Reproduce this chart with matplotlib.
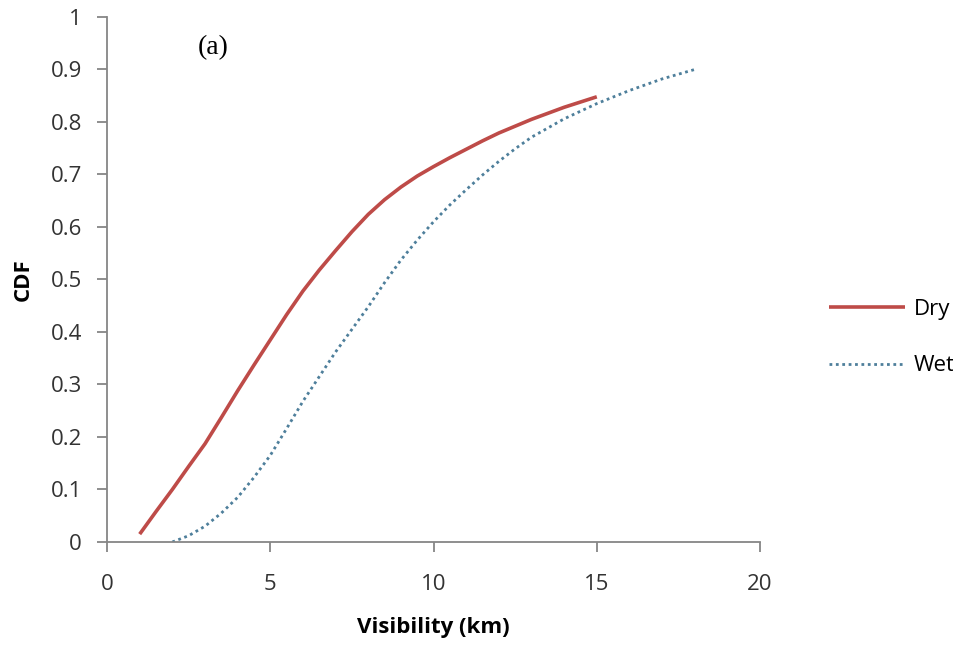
import matplotlib
matplotlib.use("Agg")
import matplotlib.pyplot as plt

# CDF of visibility for dry and wet conditions
dry_x = [1, 1.5, 2, 2.5, 3, 3.5, 4, 4.5, 5, 5.5, 6, 6.5, 7, 7.5, 8, 8.5, 9, 9.5, 10,
         10.5, 11, 11.5, 12, 13, 14, 15]
dry_y = [0.015, 0.058, 0.10, 0.144, 0.187, 0.237, 0.288, 0.337, 0.385, 0.433, 0.478, 0.518,
         0.555, 0.591, 0.624, 0.652, 0.676, 0.697, 0.715, 0.732, 0.748, 0.764, 0.779, 0.805,
         0.828, 0.848]

wet_x = [2, 2.5, 3, 3.5, 4, 4.5, 5, 5.5, 6, 6.5, 7, 7.5, 8, 8.5, 9, 9.5, 10, 10.5, 11,
         11.5, 12, 12.5, 13, 14, 15, 16, 17, 18]
wet_y = [0.0, 0.012, 0.03, 0.055, 0.085, 0.123, 0.165, 0.216, 0.268, 0.315, 0.362, 0.405,
         0.448, 0.494, 0.537, 0.575, 0.61, 0.642, 0.671, 0.699, 0.725, 0.749, 0.771, 0.806,
         0.835, 0.86, 0.882, 0.90]

xticks = [0, 5, 10, 15, 20]
yticks = [0, 0.1, 0.2, 0.3, 0.4, 0.5, 0.6, 0.7, 0.8, 0.9, 1]
ytick_labels = ["0", "0.1", "0.2", "0.3", "0.4", "0.5", "0.6", "0.7", "0.8", "0.9", "1"]

plt.rcParams["font.family"] = ["Open Sans", "DejaVu Sans"]

fig = plt.figure(figsize=(9.54, 6.58), dpi=100)
ax = fig.add_axes([0.1122, 0.1763, 0.6845, 0.7979])

ax.plot(dry_x, dry_y, color="#BE4B48", lw=2.6, label="Dry", solid_capstyle="butt",
        solid_joinstyle="round")
ax.plot(wet_x, wet_y, color="#4E7F9B", lw=2.0, linestyle=(0, (1, 1.3)), label="Wet")

ax.set_xlim(0, 20)
ax.set_ylim(0, 1)
ax.set_xticks(xticks)
ax.set_yticks(yticks)
ax.set_yticklabels(ytick_labels)

grey = "#868686"
for side in ["top", "right"]:
  ax.spines[side].set_visible(False)
for side in ["left", "bottom"]:
  ax.spines[side].set_color(grey)
  ax.spines[side].set_linewidth(1.3)
ax.tick_params(axis="both", direction="out", length=7, width=1.3, color=grey,
               labelsize=16, labelcolor="#333333")
ax.tick_params(axis="x", pad=16)
ax.tick_params(axis="y", pad=11)

ax.set_xlabel("Visibility (km)", fontsize=16, fontweight="bold", labelpad=16)
ax.set_ylabel("CDF", fontsize=16, fontweight="bold", labelpad=12)

ax.text(3.25, 0.941, "(a)", fontsize=20, family="Liberation Serif", ha="center", va="center")

ax.legend(loc="center left", bbox_to_anchor=(0.848, 0.487), bbox_transform=fig.transFigure,
          frameon=False, fontsize=16, handlelength=3.4, labelspacing=1.6,
          handletextpad=0.4, borderpad=0.4)

fig.savefig("out.png", dpi=100)
